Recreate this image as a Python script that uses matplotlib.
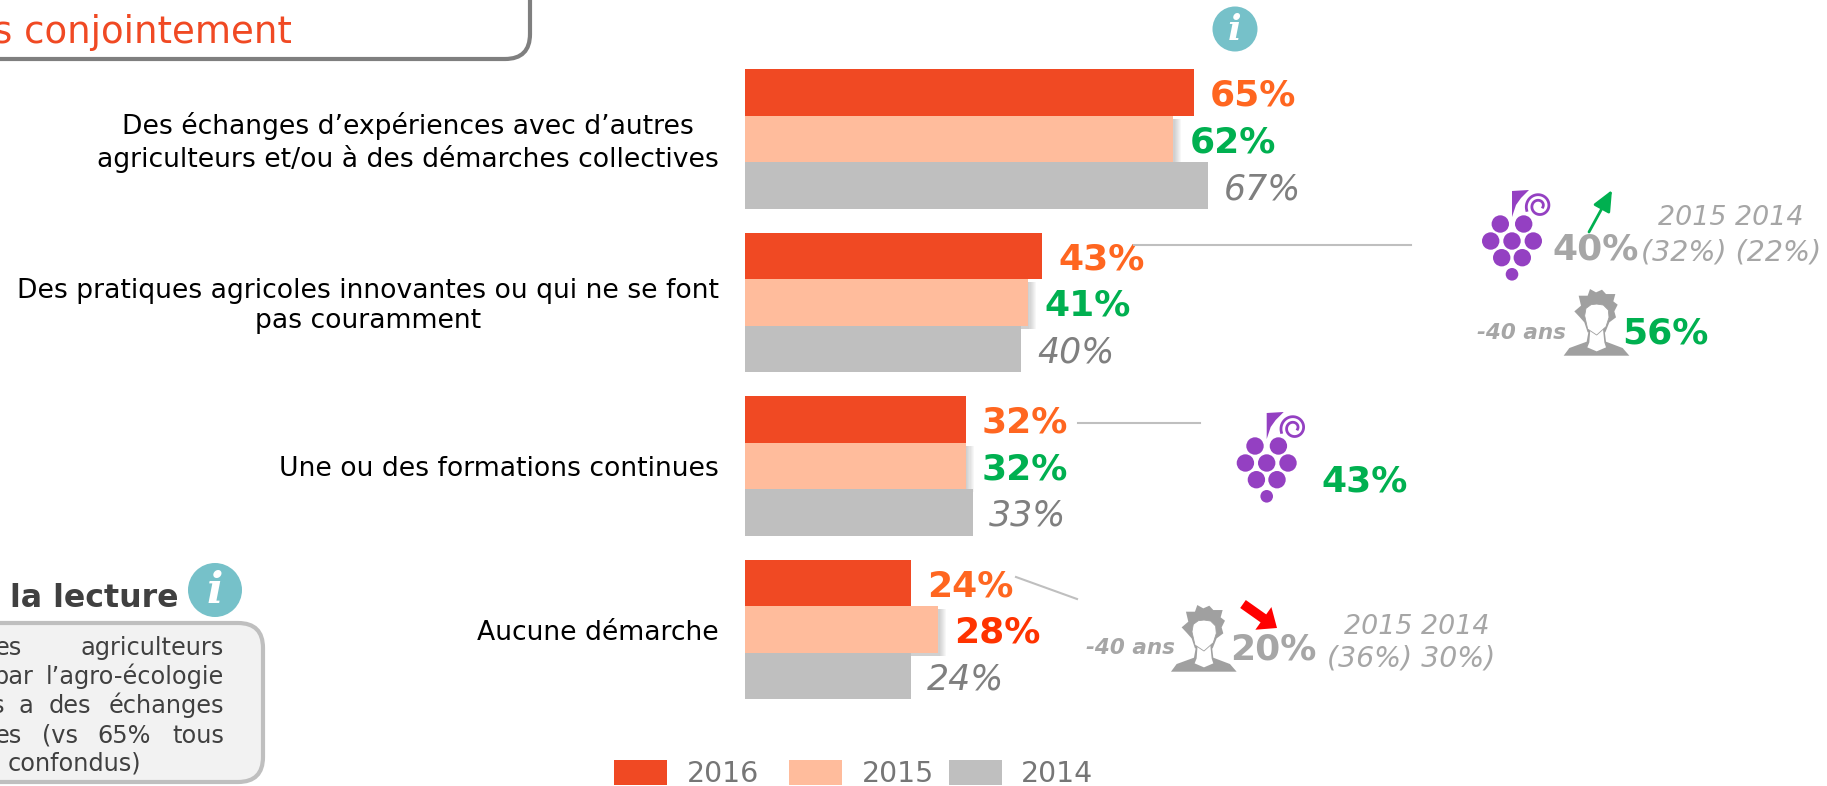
"""Demarches agro-ecologie: bars 2016/2015/2014 with side call-outs."""

import numpy as np
import matplotlib
matplotlib.use("Agg")
import matplotlib.pyplot as plt
from matplotlib.patches import Rectangle, Circle, Ellipse, Polygon, FancyBboxPatch

W, H = 1827, 786

categories = [
    "Des échanges d’expériences avec d’autres\nagriculteurs et/ou à des démarches collectives",
    "Des pratiques agricoles innovantes ou qui ne se font\npas couramment",
    "Une ou des formations continues",
    "Aucune démarche",
]
years = ["2016", "2015", "2014"]
values_2016 = [65, 43, 32, 24]
values_2015 = [62, 41, 32, 28]
values_2014 = [67, 40, 33, 24]
labels_2015_colors = ["#00B050", "#00B050", "#00B050", "#FF3300"]

RED = "#F04923"
PEACH = "#FFBC9C"
GREY = "#BFBFBF"
ORANGE = "#FF6620"
GREEN = "#00B050"
TXT_GREY = "#A6A6A6"
PURPLE = "#9440C2"
TEAL = "#76C1C9"
ICON_GREY = "#A0A0A0"

plt.rcParams["font.family"] = "DejaVu Sans"

fig = plt.figure(figsize=(W / 100, H / 100), dpi=100, facecolor="white")

# bar axes: 100 % = 691 px, one category = 163.5 px
STEP = 163.5
ax = fig.add_axes([745 / W, 1 - 722 / H, 691 / W, (722 - 69) / H])
ax.set_xlim(0, 100)
ax.set_ylim((722 - 69) / STEP, 0)
ax.axis("off")
BAR_H = 46.6 / STEP
LABEL_DY = 3.5 / STEP
y = np.arange(len(categories)) + BAR_H * 1.5
ax.barh(y - BAR_H, values_2016, BAR_H, color=RED, zorder=3)
# soft shadow on the 2015 bars
for k in range(1, 8):
    ax.barh(y + 3 / STEP, np.array(values_2015) + k * 0.16, BAR_H, color="#808080", alpha=0.06, lw=0, zorder=1)
ax.barh(y, values_2015, BAR_H, color=PEACH, zorder=2)
ax.barh(y + BAR_H, values_2014, BAR_H, color=GREY, zorder=3)

PAD = 2.3  # gap bar end -> label, in %
for i in range(len(categories)):
    ax.text(values_2016[i] + PAD, y[i] - BAR_H + LABEL_DY, f"{values_2016[i]}%", color=ORANGE,
            fontsize=26, fontweight="bold", va="center")
    ax.text(values_2015[i] + PAD, y[i] + LABEL_DY, f"{values_2015[i]}%", color=labels_2015_colors[i],
            fontsize=26, fontweight="bold", va="center")
    ax.text(values_2014[i] + PAD, y[i] + BAR_H + LABEL_DY, f"{values_2014[i]}%", color="#7F7F7F",
            fontsize=25, style="italic", va="center")
    ax.text(-3.8, y[i] + LABEL_DY, categories[i], ha="right", va="center", ma="center",
            fontsize=19.2, color="black", linespacing=1.22)

# overlay in pixel coordinates for everything that is not a bar
ov = fig.add_axes([0, 0, 1, 1], zorder=5)
ov.set_xlim(0, W)
ov.set_ylim(H, 0)
ov.axis("off")
ov.patch.set_alpha(0)


def grapes(cx, cy):
    rows = [(-11.7, -17), (11.7, -17), (-21.3, 0), (0, 0), (21.3, 0), (-10.3, 16.7), (10.3, 16.7)]
    for dx, dy in rows:
        ov.add_patch(Circle((cx + dx, cy + dy), 8.7, color=PURPLE, lw=0))
    ov.add_patch(Circle((cx, cy + 33.3), 6.3, color=PURPLE, lw=0))
    ov.add_patch(Polygon([(cx, cy - 24), (cx, cy - 50), (cx + 17, cy - 51), (cx + 9, cy - 43),
                          (cx + 4, cy - 36)], color=PURPLE, lw=0))
    t = np.linspace(0, 3.2 * np.pi, 80)
    r = 13 - 9 * t / t[-1]
    ov.plot(cx + 27 + r * np.cos(t + 2.8), cy - 35 + r * np.sin(t + 2.8), color=PURPLE, lw=2)


def person(cx, by):
    def pts(p):
        return [(cx + (a - 460) / 3, by + (b - 845) / 3) for a, b in p]
    hair = [(395, 712), (415, 695), (408, 665), (435, 665), (442, 645), (460, 655), (478, 647),
            (490, 660), (518, 660), (512, 682), (525, 692), (515, 712), (520, 730), (500, 745),
            (488, 775), (435, 775), (425, 745), (410, 728)]
    ov.add_patch(Polygon(pts(hair), color=ICON_GREY, lw=0))
    body = [(363, 845), (380, 822), (432, 803), (438, 770), (486, 770), (490, 803), (540, 822), (560, 845)]
    ov.add_patch(Polygon(pts(body), color=ICON_GREY, lw=0))
    neck = [(443, 765), (481, 765), (485, 805), (490, 820), (462, 832), (434, 820), (440, 805)]
    ov.add_patch(Polygon(pts(neck), color="white", lw=0))
    face = [(426, 725), (430, 703), (445, 692), (462, 690), (482, 693), (497, 708), (499, 730),
            (490, 758), (462, 783), (435, 765)]
    ov.add_patch(Polygon(pts(face), color="white", ec=ICON_GREY, lw=0.6))


def info(cx, cy, r):
    ov.add_patch(Ellipse((cx, cy), 2 * r, 2 * r, color=TEAL, lw=0))
    ov.text(cx, cy + r * 0.03, "i", color="white", family="DejaVu Serif", style="italic", fontweight="bold",
            fontsize=r * 1.15, ha="center", va="center")


# top box, runs off the picture
ov.add_patch(FancyBboxPatch((-60, -60), 590, 119, boxstyle="round,pad=0,rounding_size=25",
                            fc="white", ec="#7F7F7F", lw=3))
ov.text(292, 43, "s conjointement", color=RED, fontsize=26.7, ha="right", va="baseline")
ov.text(39, -3, ",", color="#7F7F7F", fontsize=16, ha="center", va="baseline")
ov.text(222, -3, ",", color="#7F7F7F", fontsize=16, ha="center", va="baseline")

# reading note, bottom left
ov.text(178, 607, "la lecture", color="#404040", fontsize=22.8, fontweight="bold", ha="right", va="baseline")
info(215, 590, 27)
ov.add_patch(FancyBboxPatch((-60, 623), 323, 159, boxstyle="round,pad=0,rounding_size=25",
                            fc="#F2F2F2", ec=GREY, lw=3))
note_words = [
    (22, 655, "es"), (224, 655, "agriculteurs"),
    (34, 684, "par"), (224, 684, "l’agro-écologie"),
    (4, 713, "s"), (33, 713, "a"), (91, 713, "des"), (224, 713, "échanges"),
    (22, 743, "es"), (78, 743, "(vs"), (151, 743, "65%"), (224, 743, "tous"),
    (141, 771, "confondus)"),
]
for nx, ny, word in note_words:
    ov.text(nx, ny, word, color="#404040", fontsize=17.3, ha="right", va="baseline")

info(1235, 29, 22.5)

# leader lines
for xs, ys in [((1134, 1411), (245, 245)), ((1078, 1200), (423, 423)), ((1016, 1077), (577, 599))]:
    ov.plot(xs, ys, color=GREY, lw=1.5)

# call-out: vignerons, ligne 2
grapes(1512, 241)
ov.text(1552, 250, "40%", color=TXT_GREY, fontsize=26, fontweight="bold", va="center")
ov.text(1641, 252, "(32%) (22%)", color=TXT_GREY, fontsize=20.5, style="italic", va="center")
ov.text(1658, 218, "2015 2014", color=TXT_GREY, fontsize=19.4, style="italic", va="center")
ov.annotate("", xy=(1612, 190), xytext=(1589, 232),
            arrowprops=dict(arrowstyle="-|>,head_length=0.9,head_width=0.4", color=GREEN, lw=2,
                            mutation_scale=14, shrinkA=0, shrinkB=0))
person(1596, 355.7)
ov.text(1477, 333, "-40 ans", color=TXT_GREY, fontsize=15.5, fontweight="bold", style="italic", va="center")
ov.text(1622, 334, "56%", color=GREEN, fontsize=26, fontweight="bold", va="center")

# call-out: formations
grapes(1266.7, 463)
ov.text(1321, 481, "43%", color=GREEN, fontsize=26, fontweight="bold", va="center")

# call-out: aucune demarche
person(1203.3, 671.7)
ov.text(1086, 648, "-40 ans", color=TXT_GREY, fontsize=15.5, fontweight="bold", style="italic", va="center")
ov.text(1230, 649, "20%", color=TXT_GREY, fontsize=26, fontweight="bold", va="center")
ov.text(1344, 627, "2015 2014", color=TXT_GREY, fontsize=19.4, style="italic", va="center")
ov.text(1327, 659, "(36%) 30%)", color=TXT_GREY, fontsize=20.4, style="italic", va="center")
ov.annotate("", xy=(1277, 628), xytext=(1243, 604),
            arrowprops=dict(arrowstyle="simple,head_length=0.6,head_width=1.0,tail_width=0.35", color="#FF0000",
                            lw=0, mutation_scale=20, shrinkA=0, shrinkB=0))

# legend
for x0, tx, col, year in zip([614, 789, 949], [687, 862, 1021], [RED, PEACH, GREY], years):
    ov.add_patch(Rectangle((x0, 760), 53, 25, color=col, lw=0))
    ov.text(tx, 774, year, color="#767676", fontsize=20.4, va="center")

fig.savefig("out.png", dpi=100)
